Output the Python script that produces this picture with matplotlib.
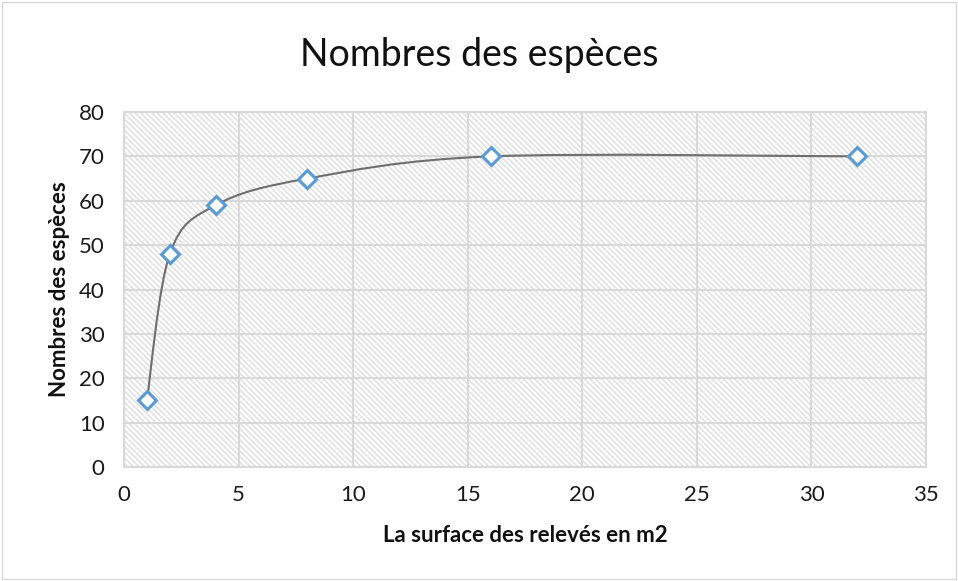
import matplotlib
matplotlib.use("Agg")
import matplotlib.pyplot as plt
from matplotlib.path import Path
from matplotlib.patches import PathPatch, Rectangle
import numpy as np

surface = [1, 2, 4, 8, 16, 32]
especes = [15, 48, 59, 65, 70, 70]
xticks = [0, 5, 10, 15, 20, 25, 30, 35]
yticks = [0, 10, 20, 30, 40, 50, 60, 70, 80]

plt.rcParams['font.family'] = ['Lato', 'DejaVu Sans']
plt.rcParams['hatch.color'] = '#e0e0e0'
plt.rcParams['hatch.linewidth'] = 1.1

fig = plt.figure(figsize=(9.58, 5.81), dpi=100)
ax = fig.add_axes([0.1294, 0.1962, 0.8372, 0.611])

# background hatch
ax.patch.set_facecolor('white')
bg = Rectangle((0, 0), 1, 1, transform=ax.transAxes, facecolor='white',
               edgecolor='#e0e0e0', hatch='\\\\\\\\\\\\', linewidth=0, zorder=0)
ax.add_patch(bg)

# Excel-like smoothed curve (Catmull-Rom -> cubic Bezier)
x = np.array(surface, float)
y = np.array(especes, float)
verts = [(x[0], y[0])]
codes = [Path.MOVETO]
n = len(x)
for i in range(n - 1):
    p0 = (x[i - 1], y[i - 1]) if i > 0 else (x[i], y[i])
    p1 = (x[i], y[i])
    p2 = (x[i + 1], y[i + 1])
    p3 = (x[i + 2], y[i + 2]) if i + 2 < n else (x[i + 1], y[i + 1])
    c1 = (p1[0] + (p2[0] - p0[0]) / 6, p1[1] + (p2[1] - p0[1]) / 6)
    c2 = (p2[0] - (p3[0] - p1[0]) / 6, p2[1] - (p3[1] - p1[1]) / 6)
    verts += [c1, c2, p2]
    codes += [Path.CURVE4] * 3
ax.add_patch(PathPatch(Path(verts, codes), facecolor='none', edgecolor='#6e6e6e',
                       linewidth=1.5, zorder=3))

ax.plot(surface, especes, linestyle='none', marker='D', markersize=9,
        markerfacecolor='white', markeredgecolor='#5B9BD5', markeredgewidth=2.2,
        zorder=4)

ax.set_xlim(0, 35)
ax.set_ylim(0, 80)
ax.set_xticks(xticks)
ax.set_yticks(yticks)
ax.grid(True, color='#d9d9d9', linewidth=1.5, zorder=1)
ax.set_axisbelow(True)
for s in ax.spines.values():
    s.set_color('#d9d9d9')
    s.set_linewidth(1.5)
ax.tick_params(length=0, labelsize=16, colors='#1a1a1a')
ax.tick_params(axis='x', pad=13)
ax.tick_params(axis='y', pad=14)

ax.set_xlabel('La surface des relevés en m2', fontsize=16, fontweight='bold',
              labelpad=14, color='#111111')
ax.set_ylabel('Nombres des espèces', fontsize=16, fontweight='bold',
              labelpad=6, color='#111111')
fig.text(0.5, 0.905, 'Nombres des espèces', ha='center', va='center',
         fontsize=27, color='#111111')

fig.patches.append(Rectangle((0.002, 0.003), 0.996, 0.994, transform=fig.transFigure,
                             fill=False, edgecolor='#d9d9d9', linewidth=1))

fig.savefig('out.png', dpi=100)
